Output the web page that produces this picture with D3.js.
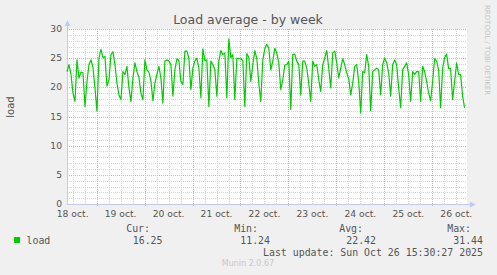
<!DOCTYPE html>
<html>
<head>
<meta charset="utf-8">
<script src="https://cdn.jsdelivr.net/npm/d3@7"></script>
<style>
  body { margin: 0; background: #f0f0f0; }
  svg { display: block; }
  text { font-family: "DejaVu Sans", sans-serif; }
  .mono { font-family: "DejaVu Sans Mono", monospace; }
</style>
</head>
<body>
<div id="chart"></div>
<script>
// hourly load values
var loadValues = [
  22.7, 23.9, 22.2, 19.0, 17.6, 24.7, 21.6, 22.6, 22.5, 16.7,
  21.0, 23.9, 24.7, 23.4, 19.9, 15.9, 25.0, 26.5, 25.1, 25.3,
  20.2, 21.3, 25.6, 26.1, 23.9, 20.7, 18.7, 17.9, 22.7, 22.2,
  23.6, 19.9, 17.6, 21.6, 24.2, 22.7, 21.7, 19.0, 17.9, 24.7,
  23.0, 22.6, 21.1, 17.7, 20.7, 22.2, 23.6, 21.6, 17.3, 24.5,
  24.7,
  24.5, 23.9, 18.5, 23.0, 24.9, 24.6, 21.0, 20.5, 26.2, 26.2,
  25.0, 19.6, 23.3, 24.5, 25.0, 23.3, 18.2, 26.6, 24.6, 24.7,
  16.7, 24.5, 23.9, 23.0, 18.5, 24.5, 26.3, 25.6, 25.9, 18.2,
  28.3, 25.1, 25.6, 17.9, 25.0, 24.9, 24.9, 24.6, 16.7, 25.8,
  25.1, 21.0, 23.9, 26.3, 24.9, 20.7, 17.6, 24.7, 26.6, 27.4,
  26.7, 23.0, 24.5, 26.7, 25.9, 24.2, 19.6, 21.3, 23.8, 23.9,
  24.5, 16.2, 25.6, 25.7, 24.5, 23.9, 18.7, 24.5, 24.5, 23.3,
  20.7, 17.6, 24.5, 23.6, 23.9, 21.3, 19.3, 23.9, 25.0, 26.3,
  23.3, 19.9, 25.9, 26.2, 24.2, 21.6, 23.3, 24.9, 23.9, 22.5,
  21.5, 18.7, 20.7, 23.6, 23.9, 21.0, 15.6, 22.7, 22.5, 25.6,
  23.6,
  16.0, 22.7, 23.0, 23.3, 23.0, 18.7, 23.9, 25.0, 24.2, 22.5,
  18.5, 23.9, 24.7, 23.9, 19.9, 16.5, 23.0, 23.6, 24.2, 22.2,
  17.6, 22.7, 22.2, 22.7, 22.7, 17.6, 23.6, 22.7, 21.0, 19.0,
  17.7, 21.0, 24.9, 24.5, 23.0, 16.5, 23.3, 25.1, 25.7, 23.2,
  23.2, 17.9, 21.0, 24.2, 22.2, 22.2, 18.5, 16.5
];
var dayLabels = ["18 oct.", "19 oct.", "20 oct.", "21 oct.", "22 oct.",
                 "23 oct.", "24 oct.", "25 oct.", "26 oct."];
var yTicks = [0, 5, 10, 15, 20, 25, 30];
var legendHeads = ["Cur:", "Min:", "Avg:", "Max:"];
var legendValues = ["16.25", "11.24", "22.42", "31.44"];

var width = 497, height = 275;
var margin = {top: 29, right: 30, bottom: 71, left: 67};
var plotW = width - margin.left - margin.right,
    plotH = height - margin.top - margin.bottom;

var start = new Date(2025, 9, 18, 9, 10);
var end = new Date(start.getTime() + 200.2 * 3600 * 1000);

var x = d3.scaleTime().domain([start, end]).range([margin.left, margin.left + plotW]);
var y = d3.scaleLinear().domain([0, 30]).range([margin.top + plotH, margin.top]);

var svg = d3.select("#chart").append("svg")
  .attr("width", width)
  .attr("height", height);

svg.append("rect").attr("width", width).attr("height", height).attr("fill", "#f0f0f0");
svg.append("rect")
  .attr("x", margin.left).attr("y", margin.top)
  .attr("width", plotW).attr("height", plotH)
  .attr("fill", "#ffffff");

// grid
var grid = svg.append("g").attr("shape-rendering", "crispEdges");
var minorY = d3.range(1, 30).filter(function(v) { return v % 5 != 0; });
grid.selectAll(".hminor").data(minorY).enter().append("line")
  .attr("x1", margin.left).attr("x2", margin.left + plotW)
  .attr("y1", function(d) { return Math.round(y(d)) + 0.5; })
  .attr("y2", function(d) { return Math.round(y(d)) + 0.5; })
  .attr("stroke", "#d4d4d4").attr("stroke-dasharray", "1,1");

var sixHours = d3.timeHour.every(6).range(start, end).filter(function(d) { return d.getHours() != 0; });
grid.selectAll(".vminor").data(sixHours).enter().append("line")
  .attr("x1", function(d) { return Math.round(x(d)) + 0.5; })
  .attr("x2", function(d) { return Math.round(x(d)) + 0.5; })
  .attr("y1", margin.top).attr("y2", margin.top + plotH)
  .attr("stroke", "#d4d4d4").attr("stroke-dasharray", "1,1");

grid.selectAll(".hmajor").data(yTicks.slice(1)).enter().append("line")
  .attr("x1", margin.left).attr("x2", margin.left + plotW)
  .attr("y1", function(d) { return Math.round(y(d)) + 0.5; })
  .attr("y2", function(d) { return Math.round(y(d)) + 0.5; })
  .attr("stroke", "#eaa8a8").attr("stroke-dasharray", "1,1");

var days = d3.timeDay.range(start, end);
grid.selectAll(".vmajor").data(days).enter().append("line")
  .attr("x1", function(d) { return Math.round(x(d)) + 0.5; })
  .attr("x2", function(d) { return Math.round(x(d)) + 0.5; })
  .attr("y1", margin.top).attr("y2", margin.top + plotH + 3)
  .attr("stroke", "#eaa8a8").attr("stroke-dasharray", "1,1");

// axes
var axisColor = "#c3caf2";
svg.append("line")
  .attr("x1", margin.left + 0.5).attr("x2", margin.left + 0.5)
  .attr("y1", margin.top + plotH).attr("y2", margin.top - 4)
  .attr("stroke", axisColor).attr("shape-rendering", "crispEdges");
svg.append("path")
  .attr("d", "M" + (margin.left - 2.5) + "," + (margin.top - 3) + "L" + (margin.left + 3.5) + "," + (margin.top - 3) + "L" + (margin.left + 0.5) + "," + (margin.top - 9) + "Z")
  .attr("fill", axisColor);
svg.append("line")
  .attr("x1", margin.left).attr("x2", margin.left + plotW + 4)
  .attr("y1", margin.top + plotH + 0.5).attr("y2", margin.top + plotH + 0.5)
  .attr("stroke", axisColor).attr("shape-rendering", "crispEdges");
svg.append("path")
  .attr("d", "M" + (margin.left + plotW + 3) + "," + (margin.top + plotH - 2.5) + "L" + (margin.left + plotW + 3) + "," + (margin.top + plotH + 3.5) + "L" + (margin.left + plotW + 9) + "," + (margin.top + plotH + 0.5) + "Z")
  .attr("fill", axisColor);

// y tick labels
svg.selectAll(".ylab").data(yTicks).enter().append("text")
  .attr("x", margin.left - 5)
  .attr("y", function(d) { return y(d) + 3; })
  .attr("text-anchor", "end")
  .attr("font-size", "9.2px")
  .attr("fill", "#555")
  .text(function(d) { return d; });

// x tick labels at noon of each day
var noons = dayLabels.map(function(l, i) { return new Date(2025, 9, 18 + i, 12, 0); });
svg.selectAll(".xlab").data(dayLabels).enter().append("text")
  .attr("x", function(d, i) { return x(noons[i]); })
  .attr("y", margin.top + plotH + 12.5)
  .attr("text-anchor", "middle")
  .attr("font-size", "9.2px")
  .attr("fill", "#555")
  .text(function(d) { return d; });

// data line
var line = d3.line()
  .x(function(d, i) { return x(new Date(start.getTime() + i * 3600 * 1000)); })
  .y(function(d) { return y(d); });
svg.append("path")
  .datum(loadValues)
  .attr("d", line)
  .attr("fill", "none")
  .attr("stroke", "#00cc00")
  .attr("stroke-width", 1.2)
  .attr("stroke-linejoin", "round");

// title, axis label, watermark
svg.append("text")
  .attr("x", 248).attr("y", 24)
  .attr("text-anchor", "middle")
  .attr("font-size", "12.5px")
  .attr("fill", "#555")
  .text("Load average - by week");

svg.append("text")
  .attr("transform", "translate(14,107) rotate(-90)")
  .attr("text-anchor", "middle")
  .attr("font-size", "10px")
  .attr("fill", "#555")
  .text("load");

svg.append("text")
  .attr("transform", "translate(485,5) rotate(90)")
  .attr("font-size", "7px")
  .attr("fill", "#c4c4c4")
  .text("RRDTOOL / TOBI OETIKER");

// legend
var legend = svg.append("g").attr("class", "mono").attr("font-size", "9.9px").attr("fill", "#555");
var colEnds = [150, 258, 363, 471];
var valEnds = [162.5, 270, 376, 483];
legend.selectAll(".head").data(legendHeads).enter().append("text")
  .attr("class", "mono")
  .attr("x", function(d, i) { return colEnds[i]; })
  .attr("y", 232)
  .attr("text-anchor", "end")
  .text(function(d) { return d; });
legend.selectAll(".val").data(legendValues).enter().append("text")
  .attr("class", "mono")
  .attr("x", function(d, i) { return valEnds[i]; })
  .attr("y", 244)
  .attr("text-anchor", "end")
  .text(function(d) { return d; });
legend.append("rect")
  .attr("x", 14).attr("y", 237).attr("width", 6).attr("height", 6)
  .attr("fill", "#00cc00");
legend.append("text").attr("class", "mono")
  .attr("x", 26.5).attr("y", 244).text("load");
legend.append("text").attr("class", "mono")
  .attr("x", 483).attr("y", 256).attr("text-anchor", "end")
  .text("Last update: Sun Oct 26 15:30:27 2025");

svg.append("text")
  .attr("x", 248).attr("y", 266)
  .attr("text-anchor", "middle")
  .attr("font-size", "8px")
  .attr("fill", "#c8c8c8")
  .text("Munin 2.0.67");
</script>
</body>
</html>
